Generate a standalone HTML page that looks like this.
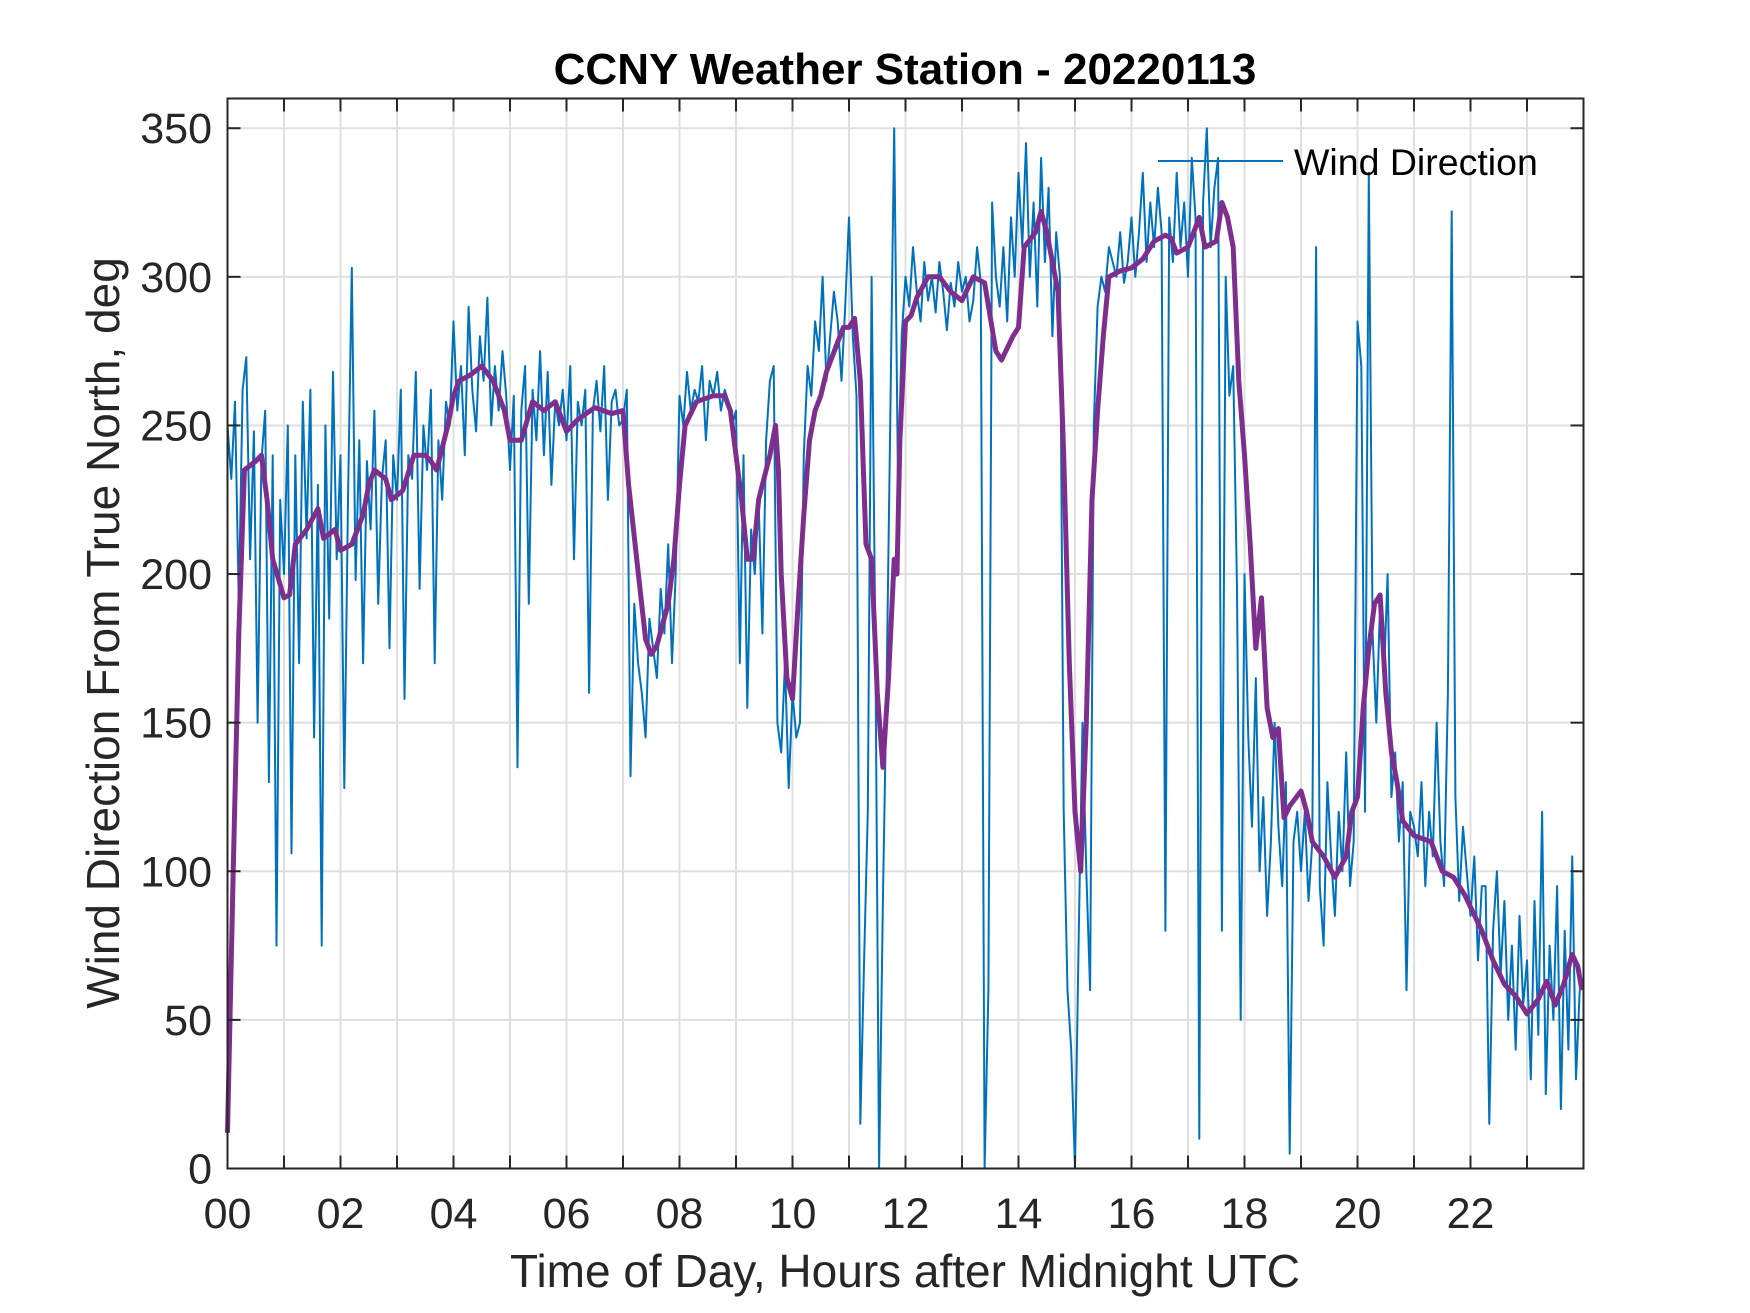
<!DOCTYPE html>
<html><head><meta charset="utf-8"><style>
html,body{margin:0;padding:0;background:#fff;}
svg{display:block;font-family:"Liberation Sans",sans-serif;}
</style></head><body>
<svg id="chart" width="1750" height="1313" viewBox="0 0 1750 1313" xmlns="http://www.w3.org/2000/svg">
<rect x="0" y="0" width="1750" height="1313" fill="#fff"/>
<g id="grid"></g>
<g id="series"></g>
<rect x="227.5" y="98.5" width="1356" height="1070" fill="none" stroke="#262626" stroke-width="2"/>
<g id="ticks"></g>
<text x="905" y="84" text-anchor="middle" font-size="44" font-weight="bold" fill="#000">CCNY Weather Station - 20220113</text>
<text x="905" y="1287" text-anchor="middle" font-size="46" fill="#262626">Time of Day, Hours after Midnight UTC</text>
<text transform="translate(119,633) rotate(-90)" text-anchor="middle" font-size="46" fill="#262626">Wind Direction From True North, deg</text>
<g>
<line x1="1158" y1="161" x2="1283" y2="161" stroke="#0072BD" stroke-width="2"/>
<text x="1294" y="175" font-size="37.5" fill="#000">Wind Direction</text>
</g>
</svg>
<script>
const xTickLabels = ["00","02","04","06","08","10","12","14","16","18","20","22"];
const yTickLabels = [0,50,100,150,200,250,300,350];
const rawPerHour = [
[250,232,258,190,262,273,205,248,150,238,255,130,240,75,225],
[200,250,106,240,170,258,212,262,145,230,75,250,185,268,205],
[240,128,225,303,198,245,170,238,215,255,190,232,245,175,240],
[225,262,158,240,232,268,195,250,235,262,170,245,225,258,250],
[285,255,270,240,290,262,248,280,265,293,250,270,255,275,260],
[235,260,135,255,270,190,262,245,275,240,268,230,258,250,262],
[245,270,205,258,250,262,160,255,265,248,270,225,258,262,250],
[252,262,132,190,170,160,145,185,175,165,195,180,210,170,200],
[260,250,268,255,262,258,270,245,265,260,268,255,262,258,250],
[255,170,240,155,215,200,225,180,245,265,270,150,140,170,128],
[160,145,150,240,270,260,285,275,300,265,280,295,285,265,290],
[320,280,260,15,70,120,300,175,0,90,165,255,350,230,280],
[300,290,310,295,285,305,292,300,288,305,295,282,298,290,305],
[295,300,285,292,310,298,0,60,325,300,290,310,285,320,300],
[335,310,345,300,325,290,340,305,330,280,315,300,120,60,40],
[0,80,150,100,60,250,290,300,295,310,305,300,315,298,305],
[320,300,315,335,305,325,310,330,315,80,320,305,335,310,325],
[300,340,320,10,325,350,310,330,340,80,300,260,270,195,50],
[200,145,115,165,100,125,85,110,150,115,95,130,5,110,120],
[100,120,90,110,310,95,75,130,105,85,120,100,140,95,110],
[285,270,120,335,180,150,190,165,200,125,140,110,130,60,120],
[115,105,130,95,120,105,150,110,95,160,322,125,90,115,100],
[85,105,70,95,95,15,80,100,65,90,50,75,40,85,55],
[70,30,90,45,120,25,75,50,95,20,80,40,105,30,60]
];
const smoothHours = [0,0.1,0.2,0.3,0.5,0.6,0.7,0.8,1.0,1.1,1.2,1.4,1.6,1.7,1.9,2.0,2.2,2.4,2.5,2.6,2.8,2.9,3.1,3.3,3.5,3.6,3.7,3.9,4.0,4.1,4.3,4.5,4.7,4.9,5.0,5.2,5.4,5.6,5.8,6.0,6.2,6.5,6.8,7.0,7.1,7.3,7.4,7.5,7.6,7.8,7.9,8.0,8.1,8.3,8.6,8.8,8.9,9.0,9.1,9.2,9.3,9.4,9.6,9.7,9.75,9.8,9.9,10.0,10.1,10.2,10.3,10.4,10.5,10.6,10.8,10.9,11.0,11.1,11.2,11.3,11.4,11.5,11.6,11.7,11.8,11.85,11.9,12.0,12.1,12.2,12.4,12.6,12.8,13.0,13.2,13.4,13.6,13.7,13.9,14.0,14.1,14.3,14.4,14.5,14.6,14.7,14.8,14.9,15.0,15.1,15.2,15.3,15.4,15.5,15.6,15.8,16.0,16.2,16.4,16.6,16.7,16.8,17.0,17.1,17.2,17.3,17.5,17.6,17.7,17.8,17.9,18.0,18.1,18.2,18.3,18.4,18.5,18.6,18.7,18.8,19.0,19.1,19.2,19.4,19.6,19.8,19.9,20.0,20.1,20.2,20.3,20.4,20.5,20.6,20.7,20.8,21.0,21.3,21.5,21.7,21.9,22.0,22.2,22.4,22.6,22.8,23.0,23.2,23.35,23.5,23.65,23.8,23.9,23.97];
const smoothValues = [12,100,180,235,238,240,225,205,192,193,210,215,222,212,215,208,210,220,230,235,232,225,228,240,240,238,235,250,260,265,267,270,265,255,245,245,258,255,258,248,252,256,254,255,230,195,178,173,176,190,205,230,250,258,260,260,255,240,225,205,205,225,240,250,235,200,165,158,190,220,245,255,260,268,278,283,283,286,265,210,205,160,135,165,205,200,245,285,287,293,300,300,295,292,300,298,275,272,280,283,310,315,322,315,305,295,240,170,120,100,150,225,255,280,300,302,303,306,312,314,313,308,310,315,320,310,312,325,320,310,265,240,210,175,192,155,145,148,118,122,127,120,110,105,98,105,120,125,155,175,190,193,160,140,130,117,112,110,100,98,92,88,80,70,62,58,52,57,63,55,62,72,68,60];

const X0=227.5, X1=1583.5, Y0=1168.5, Y1=98.5;
function sx(h){return X0+(h/24)*(X1-X0);}
function sy(v){return Y0-(v/360)*(Y0-Y1);}
const NS="http://www.w3.org/2000/svg";
const grid=document.getElementById('grid'), ticks=document.getElementById('ticks'), series=document.getElementById('series');
function mk(tag,attrs,parent){const e=document.createElementNS(NS,tag);for(const k in attrs)e.setAttribute(k,attrs[k]);parent.appendChild(e);return e;}
for(let h=1;h<24;h++){
  const g=mk('line',{x1:sx(h),x2:sx(h),y1:Y1,y2:Y0,stroke:'#dfdfdf','stroke-width':2},grid);
  
  
}
for(let h=0;h<24;h++){
  const t1=mk('line',{x1:sx(h),x2:sx(h),y1:Y0,y2:Y0-13,stroke:'#262626','stroke-width':2},ticks);
  
  
  const t2=mk('line',{x1:sx(h),x2:sx(h),y1:Y1,y2:Y1+13,stroke:'#262626','stroke-width':2},ticks);
  
  
}
xTickLabels.forEach((lab,i)=>{
  const t=mk('text',{x:sx(i*2),y:1228,'text-anchor':'middle','font-size':43,fill:'#262626'},ticks);
  t.textContent=lab;
  
  
});
yTickLabels.forEach(v=>{
  if(v>0){
    const g=mk('line',{x1:X0,x2:X1,y1:sy(v),y2:sy(v),stroke:'#dfdfdf','stroke-width':2},grid);
    
    
  }
  const a=mk('line',{x1:X0,x2:X0+13,y1:sy(v),y2:sy(v),stroke:'#262626','stroke-width':2},ticks);
  
  
  const b=mk('line',{x1:X1,x2:X1-13,y1:sy(v),y2:sy(v),stroke:'#262626','stroke-width':2},ticks);
  
  
  const t=mk('text',{x:212,y:sy(v)+15,'text-anchor':'end','font-size':43,fill:'#262626'},ticks);
  t.textContent=v;
  
  
});
let pts=[];
rawPerHour.forEach((arr,h)=>arr.forEach((v,i)=>{pts.push(sx(h+i/arr.length).toFixed(1)+','+sy(v).toFixed(1));}));
const raw=mk('polyline',{points:pts.join(' '),fill:'none',stroke:'#0072BD','stroke-width':2,'stroke-linejoin':'round'},series);


const sp=smoothHours.map((h,i)=>sx(h).toFixed(1)+','+sy(smoothValues[i]).toFixed(1));
const sm=mk('polyline',{points:sp.join(' '),fill:'none',stroke:'#7E2F8E','stroke-width':5,'stroke-linejoin':'round'},series);


</script>
</body></html>
